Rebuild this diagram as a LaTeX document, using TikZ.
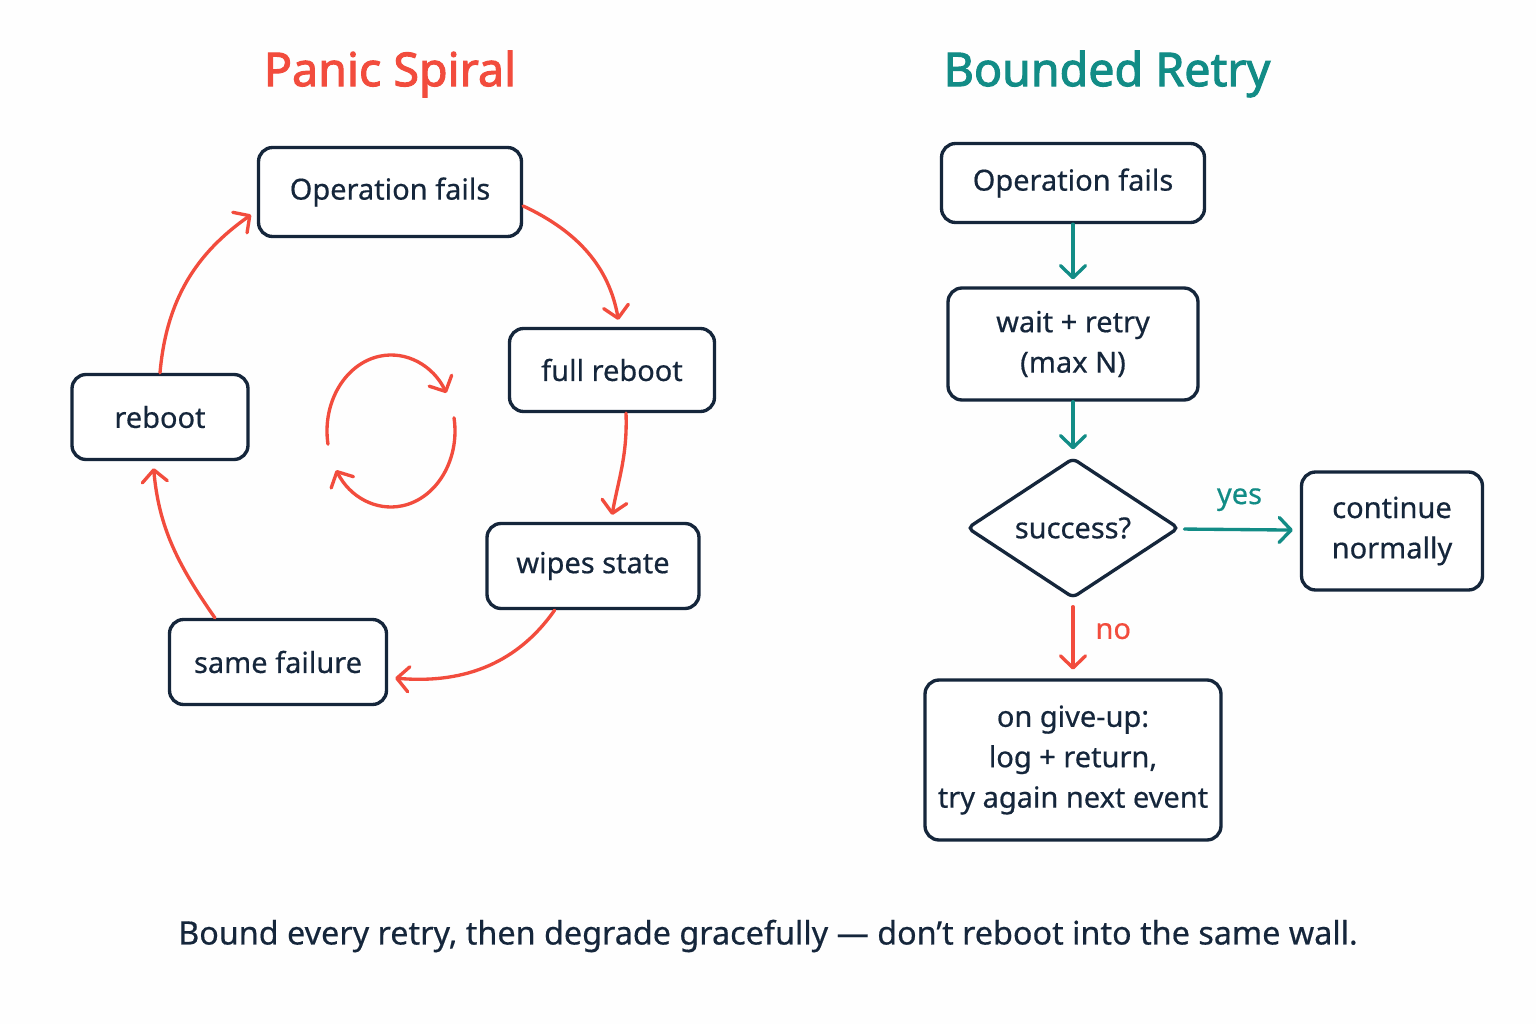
\documentclass[tikz,border=0pt]{standalone}
\usepackage{fontspec}
\setmainfont{Noto Sans}[FakeBold=0.5]
\newfontfamily\titlefont{Noto Sans}[FakeBold=2.2]
\usetikzlibrary{arrows.meta,shapes.geometric}
\definecolor{navy}{HTML}{15263B}
\definecolor{panicred}{HTML}{F24C3D}
\definecolor{calmteal}{HTML}{128C86}

\begin{document}
\begin{tikzpicture}[x=0.02cm,y=0.02cm,line width=1.9pt,
   box/.style={draw=navy,fill=white,text=navy,rounded corners=0.28cm,align=center,inner sep=0pt,font=\fontsize{16.5}{23}\selectfont},
   panic/.style={draw=panicred,line cap=round,-{Straight Barb[length=2.4mm,width=5mm,round]},shorten >=4pt},
   calm/.style={draw=calmteal,line cap=round,-{Straight Barb[length=2.4mm,width=5mm,round]},shorten >=4pt}]
   \fill[white!99!gray] (0,0) rectangle (1536,-1024);
   \useasboundingbox (0,0) rectangle (1536,-1024);
   \node[text=panicred,font=\titlefont\fontsize{26.5}{30}\selectfont] (ttlpanic) at (390,-74) {Panic Spiral};
   \node[text=calmteal,font=\titlefont\fontsize{26.5}{30}\selectfont] (ttlbound) at (1107,-74) {Bounded Retry};
   \node[box,minimum width=5.26cm,minimum height=1.78cm] (opfail) at (390,-192) {Operation fails};
   \node[box,minimum width=4.1cm,minimum height=1.66cm] (fullreboot) at (612,-370) {full reboot};
   \node[box,minimum width=4.24cm,minimum height=1.7cm] (wipes) at (593,-566) {wipes state};
   \node[box,minimum width=4.34cm,minimum height=1.7cm] (samefail) at (278,-662) {same failure};
   \node[box,minimum width=3.52cm,minimum height=1.7cm] (reboot) at (160,-417) {reboot};
   \draw[panic] (opfail.-6) to[out=-25,in=100] (fullreboot.80);
   \draw[panic] (fullreboot.-72) to[out=-88,in=80] (wipes.68);
   \draw[panic] (wipes.-131) to[out=-125,in=-5] (samefail.-8);
   \draw[panic] (samefail.145) to[out=125,in=-85] (reboot.-99);
   \draw[panic] (reboot.north) to[out=85,in=-145] (opfail.-172);
   \coordinate (cyc) at (391,-431);
   \draw[panic,shorten >=0pt] ([shift={(190:1.28cm and 1.52cm)}]cyc) arc[start angle=190,end angle=30,x radius=1.28cm,y radius=1.52cm];
   \draw[panic,shorten >=0pt] ([shift={(10:1.28cm and 1.52cm)}]cyc) arc[start angle=10,end angle=-149,x radius=1.28cm,y radius=1.52cm];
   \node[box,minimum width=5.26cm,minimum height=1.58cm] (opfail2) at (1073,-183) {Operation fails};
   \node[box,minimum width=5cm,minimum height=2.24cm] (waitretry) at (1073,-344) {wait + retry\\(max N)};
   \node[box,shape=diamond,aspect=1.5,rounded corners=3pt,minimum width=4.24cm,minimum height=2.8cm] (success) at (1073,-528) {success?};
   \node[box,minimum width=3.62cm,minimum height=2.36cm] (contnorm) at (1392,-531) {continue\\normally};
   \node[box,minimum width=5.92cm,minimum height=3.2cm] (giveup) at (1073,-760) {on give-up:\\log + return,\\try again next event};
   \draw[calm] (opfail2) -- (waitretry);
   \draw[calm] (waitretry) -- (success);
   \draw[calm,shorten <=3pt] (success) -- (contnorm) node[midway,above=0.22cm,text=calmteal,font=\fontsize{16.5}{20}\selectfont] {yes};
   \draw[panic,shorten <=4pt,shorten >=5pt] (success) -- (giveup) node[pos=0.4,right=0.3cm,text=panicred,font=\fontsize{16.5}{20}\selectfont] {no};
   \node[text=navy,font=\fontsize{18.4}{22}\selectfont] (motto) at (768,-936) {Bound every retry, then degrade gracefully — don’t reboot into the same wall.};
\end{tikzpicture}
\end{document}
